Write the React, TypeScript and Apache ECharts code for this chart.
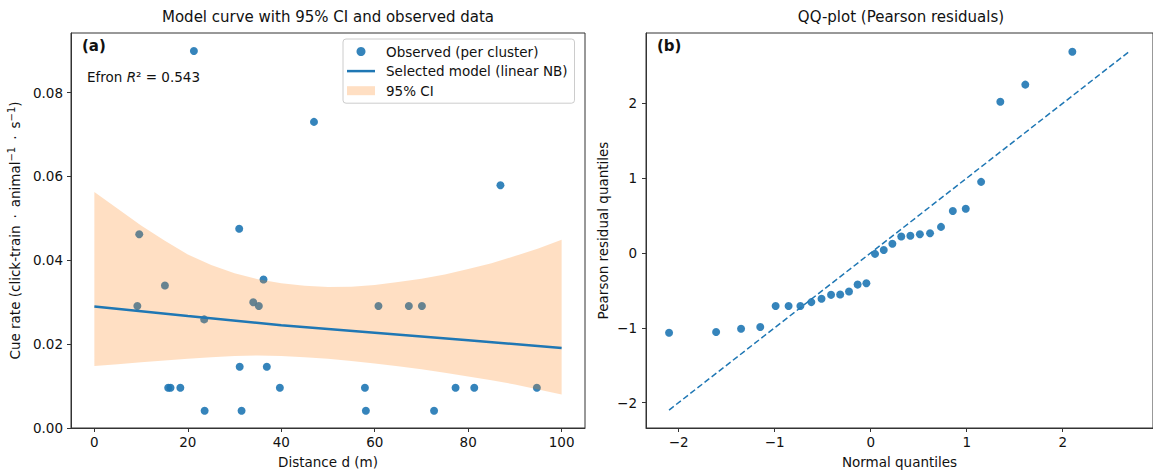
import React, { useEffect, useRef } from "react";
import * as echarts from "echarts";

// ---- Panel (a): observed data per cluster ----
const obsDistance = [21.3, 47.0, 86.9, 9.6, 31.0, 15.1, 9.2, 36.2, 34.0, 35.2, 23.5, 31.1, 36.9, 15.8, 16.3, 18.4, 39.7, 23.6, 31.5, 60.8, 67.3, 70.1, 57.9, 77.3, 81.3, 94.7, 58.1, 72.7];
const obsRate = [0.0899, 0.0730, 0.0579, 0.0462, 0.0475, 0.0340, 0.0291, 0.0354, 0.0300, 0.0291, 0.0259, 0.0146, 0.0146, 0.0096, 0.0096, 0.0096, 0.0096, 0.0041, 0.0041, 0.0291, 0.0291, 0.0291, 0.0096, 0.0096, 0.0096, 0.0096, 0.0041, 0.0041];

// Selected model curve (linear NB)
const modelD = [0, 20, 40, 60, 80, 100];
const modelRate = [0.0290, 0.0267, 0.0245, 0.0227, 0.0209, 0.0191];

// 95% CI band
const ciD = [0, 5, 10, 15, 20, 25, 30, 35, 40, 45, 50, 55, 60, 65, 70, 75, 80, 85, 90, 95, 100];
const ciUpper = [0.0563, 0.0523, 0.0483, 0.0447, 0.0414, 0.0389, 0.0369, 0.0355, 0.0345, 0.0339, 0.0336, 0.0337, 0.0341, 0.0348, 0.0356, 0.0366, 0.0379, 0.0393, 0.0410, 0.0428, 0.0449];
const ciLower = [0.0148, 0.0152, 0.0157, 0.0161, 0.0165, 0.0169, 0.0172, 0.0173, 0.0172, 0.0169, 0.0165, 0.0160, 0.0154, 0.0147, 0.0140, 0.0132, 0.0123, 0.0114, 0.0104, 0.0092, 0.0080];

const leftXTicks = [0, 20, 40, 60, 80, 100];
const leftYTicks = [0, 0.02, 0.04, 0.06, 0.08];

// ---- Panel (b): QQ-plot of Pearson residuals ----
const qqTheo = [-2.10, -1.61, -1.35, -1.15, -0.99, -0.855, -0.732, -0.618, -0.512, -0.413, -0.318, -0.226, -0.136, -0.045, 0.045, 0.136, 0.226, 0.318, 0.413, 0.512, 0.618, 0.732, 0.855, 0.99, 1.15, 1.35, 1.61, 2.10];
const qqResid = [-1.067, -1.057, -1.013, -0.99, -0.71, -0.71, -0.71, -0.657, -0.612, -0.56, -0.555, -0.516, -0.423, -0.405, -0.012, 0.04, 0.123, 0.22, 0.23, 0.25, 0.264, 0.348, 0.56, 0.59, 0.95, 2.02, 2.25, 2.69];
const refLineX = [-2.1, 2.7];
const refLineY = [-2.1, 2.7];
const qqTicks = [-2, -1, 0, 1, 2];

const FONT = "DejaVu Sans";
const BLUE = "#1f77b4";
const TXT = "#111";
const FS = 13.5;

const minusFmt = (v: number) => (v < 0 ? "\u2212" + Math.abs(v) : String(v));

export default function App() {
  const ref = useRef<HTMLDivElement>(null);
  useEffect(() => {
    if (!ref.current) return;
    const chart = echarts.init(ref.current, null, { renderer: "svg" });
    const axisCommon = {
      axisLine: { show: true, onZero: false, lineStyle: { color: "#333", width: 1 } },
      axisTick: { show: true, inside: false, length: 4, lineStyle: { color: "#333" } },
      splitLine: { show: false },
      nameTextStyle: { fontFamily: FONT, fontSize: FS, color: TXT },
    };
    const labelCommon = { fontFamily: FONT, fontSize: FS, color: TXT };

    const option: any = {
      animation: false,
      backgroundColor: "#fff",
      textStyle: { fontFamily: FONT },
      title: [
        {
          text: "Model curve with 95% CI and observed data",
          left: 328,
          top: 9,
          textAlign: "center",
          padding: 0,
          textStyle: { fontFamily: FONT, fontSize: 15, fontWeight: "normal", color: TXT },
        },
        {
          text: "QQ-plot (Pearson residuals)",
          left: 901,
          top: 9,
          textAlign: "center",
          padding: 0,
          textStyle: { fontFamily: FONT, fontSize: 15, fontWeight: "normal", color: TXT },
        },
      ],
      grid: [
        { left: 71, top: 33, width: 514, height: 397, show: true, borderColor: "#333", borderWidth: 1, backgroundColor: "transparent" },
        { left: 646, top: 33, width: 511, height: 397, show: true, borderColor: "#333", borderWidth: 1, backgroundColor: "transparent" },
      ],
      legend: {
        left: 343,
        top: 39,
        orient: "vertical",
        itemWidth: 28,
        itemHeight: 9,
        itemGap: 4.6,
        padding: [5, 7, 5, 4],
        backgroundColor: "rgba(255,255,255,0.8)",
        borderColor: "#cccccc",
        borderWidth: 1,
        borderRadius: 3,
        textStyle: { fontFamily: FONT, fontSize: FS, color: TXT, lineHeight: 15, padding: [0, 0, 0, 6] },
        data: [
          { name: "Observed (per cluster)", icon: "circle" },
          { name: "Selected model (linear NB)", icon: "path://M0,0 L28,0 L28,2.5 L0,2.5 Z", itemStyle: { color: BLUE } },
          { name: "95% CI", icon: "rect", itemStyle: { color: "rgba(255,127,14,0.25)" } },
        ],
      },
      xAxis: [
        {
          ...axisCommon,
          type: "value",
          gridIndex: 0,
          min: -5,
          max: 105,
          name: "Distance d (m)",
          nameLocation: "middle",
          nameGap: 27,
          axisTick: { ...axisCommon.axisTick, customValues: leftXTicks },
          axisLabel: { ...labelCommon, margin: 7, customValues: leftXTicks, formatter: (v: number) => String(v) },
        },
        {
          ...axisCommon,
          type: "value",
          gridIndex: 1,
          min: -2.34,
          max: 2.94,
          name: "Normal quantiles",
          nameLocation: "middle",
          nameGap: 27,
          axisTick: { ...axisCommon.axisTick, customValues: qqTicks },
          axisLabel: { ...labelCommon, margin: 7, customValues: qqTicks, formatter: minusFmt },
        },
      ],
      yAxis: [
        {
          ...axisCommon,
          type: "value",
          gridIndex: 0,
          min: 0,
          max: 0.0942,
          name: "{n|Cue rate (click-train \u2009\u00b7\u2009 animal}{s|\u22121}{n| \u2009\u00b7\u2009 s}{s|\u22121}{n|)}",
          nameLocation: "middle",
          nameGap: 48,
          nameTextStyle: {
            fontFamily: FONT,
            fontSize: FS,
            color: TXT,
            rich: {
              n: { fontFamily: FONT, fontSize: FS, color: TXT, lineHeight: 17 },
              s: { fontFamily: FONT, fontSize: 10, color: TXT, verticalAlign: "top", lineHeight: 12 },
            },
          },
          axisTick: { ...axisCommon.axisTick, customValues: leftYTicks },
          axisLabel: { ...labelCommon, margin: 8, customValues: leftYTicks, formatter: (v: number) => v.toFixed(2) },
        },
        {
          ...axisCommon,
          type: "value",
          gridIndex: 1,
          min: -2.34,
          max: 2.94,
          name: "Pearson residual quantiles",
          nameLocation: "middle",
          nameGap: 36,
          axisTick: { ...axisCommon.axisTick, customValues: qqTicks },
          axisLabel: { ...labelCommon, margin: 9, customValues: qqTicks, formatter: minusFmt },
        },
      ],
      series: [
        {
          name: "Observed (per cluster)",
          type: "scatter",
          xAxisIndex: 0,
          yAxisIndex: 0,
          symbolSize: 8,
          itemStyle: { color: BLUE, opacity: 0.9 },
          data: obsDistance.map((d, i) => [d, obsRate[i]]),
          z: 2,
        },
        {
          name: "95% CI",
          type: "custom",
          xAxisIndex: 0,
          yAxisIndex: 0,
          itemStyle: { color: "rgba(255,127,14,0.25)" },
          data: [[ciD[0], ciLower[0]]],
          renderItem: (params: any, api: any) => {
            if (params.dataIndex !== 0) return null;
            const up = ciD.map((d, i) => api.coord([d, ciUpper[i]]));
            const lo = ciD.map((d, i) => api.coord([d, ciLower[i]])).reverse();
            return {
              type: "polygon",
              shape: { points: up.concat(lo) },
              style: { fill: "#ff7f0e", opacity: 0.25, stroke: "none" },
            };
          },
          z: 3,
        },
        {
          name: "Selected model (linear NB)",
          type: "line",
          xAxisIndex: 0,
          yAxisIndex: 0,
          symbol: "none",
          showSymbol: false,
          lineStyle: { color: BLUE, width: 2.5 },
          itemStyle: { color: BLUE },
          data: modelD.map((d, i) => [d, modelRate[i]]),
          z: 4,
        },
        {
          name: "QQ reference",
          type: "line",
          xAxisIndex: 1,
          yAxisIndex: 1,
          symbol: "none",
          showSymbol: false,
          lineStyle: { color: BLUE, width: 1.5, type: [6, 3] },
          data: refLineX.map((x, i) => [x, refLineY[i]]),
          z: 2,
        },
        {
          name: "Pearson residuals",
          type: "scatter",
          xAxisIndex: 1,
          yAxisIndex: 1,
          symbolSize: 8,
          itemStyle: { color: BLUE, opacity: 0.9 },
          data: qqTheo.map((x, i) => [x, qqResid[i]]),
          z: 3,
        },
      ],
      graphic: [
        {
          type: "text",
          left: 82,
          top: 38,
          style: { text: "(a)", fontFamily: FONT, fontSize: 15, fontWeight: "bold", fill: TXT },
        },
        {
          type: "text",
          left: 87,
          top: 70,
          style: {
            text: "{n|Efron }{i|R}{n|\u00b2 = 0.543}",
            rich: {
              n: { fontFamily: FONT, fontSize: FS, fill: TXT, color: TXT },
              i: { fontFamily: FONT, fontSize: FS, fontStyle: "italic", fill: TXT, color: TXT },
            },
          },
        },
        {
          type: "text",
          left: 657,
          top: 38,
          style: { text: "(b)", fontFamily: FONT, fontSize: 15, fontWeight: "bold", fill: TXT },
        },
      ],
    };
    chart.setOption(option);
    return () => chart.dispose();
  }, []);
  return <div ref={ref} style={{ position: "absolute", left: 0, top: 0, width: 1153, height: 474 }} />;
}
